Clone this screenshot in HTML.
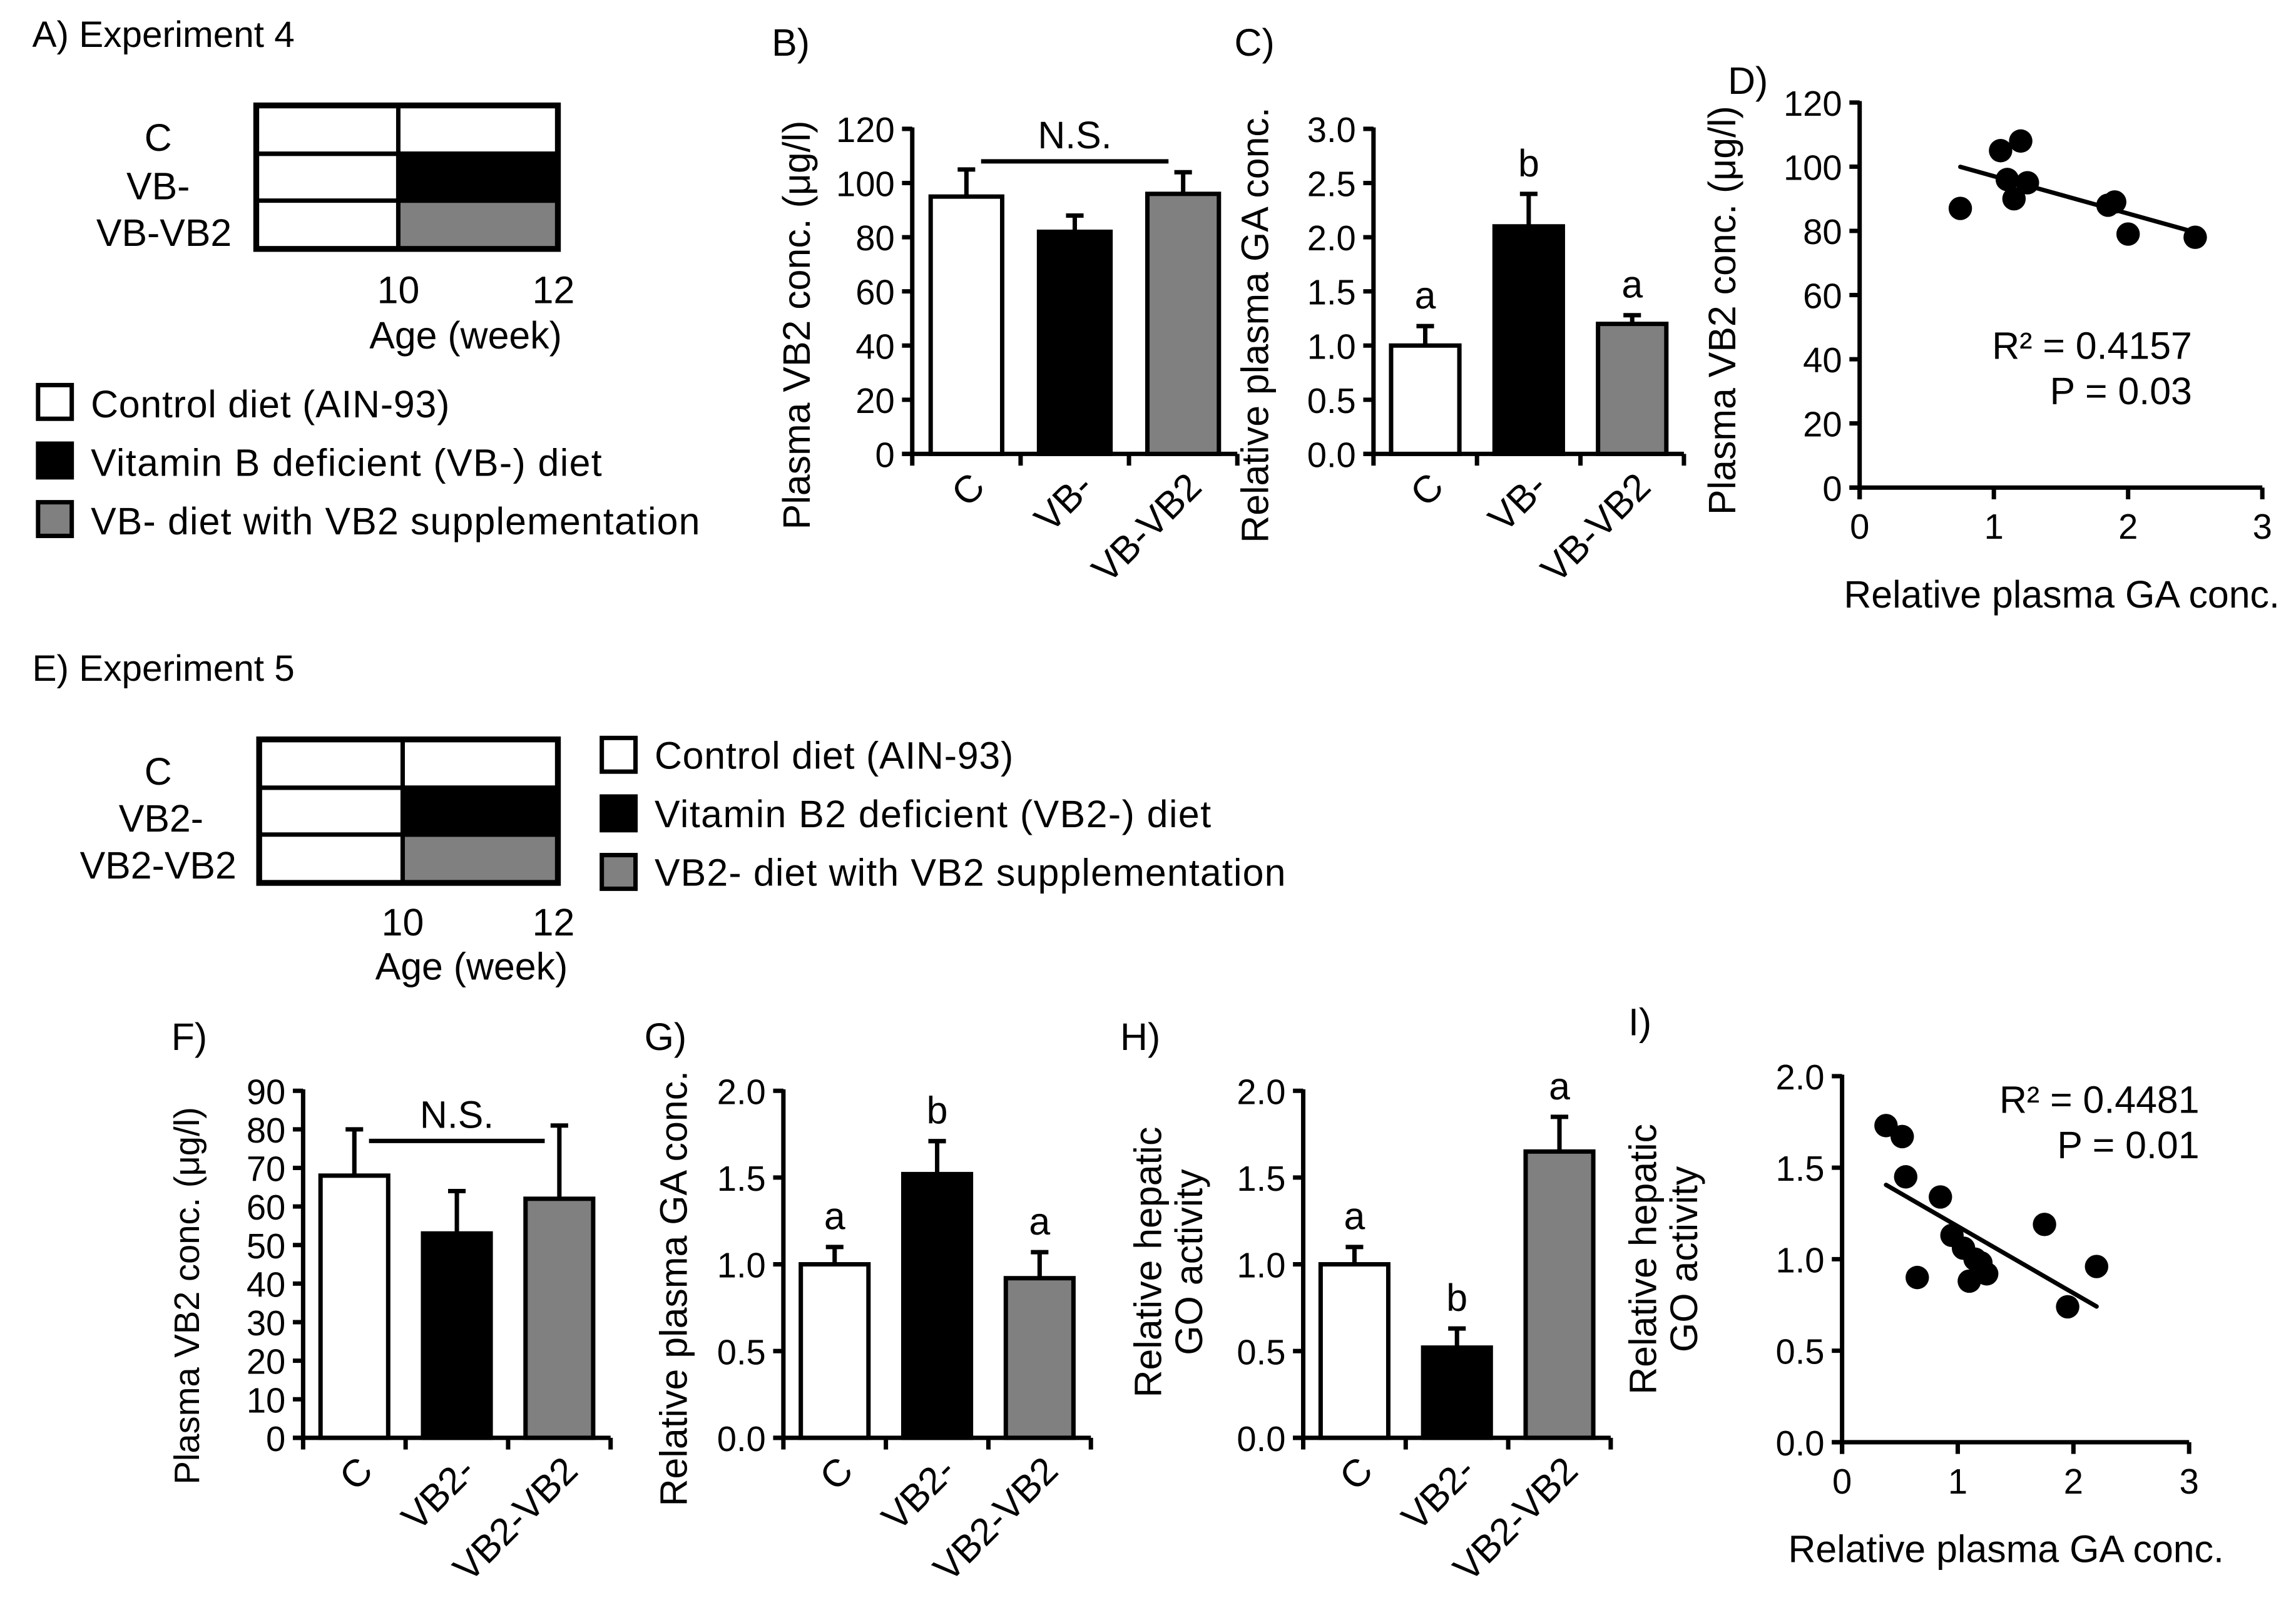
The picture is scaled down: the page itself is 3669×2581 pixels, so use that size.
<!DOCTYPE html>
<html><head><meta charset="utf-8"><style>
html,body{margin:0;padding:0;background:#fff;}
svg{display:block;}
text{font-family:"Liberation Sans",Arial,sans-serif;fill:#000;}
</style></head>
<body>
<svg id="fig" width="3669" height="2581" viewBox="0 0 1568 1103" xmlns="http://www.w3.org/2000/svg">
<g id="static">
<text x="22" y="32" font-size="25">A)  Experiment 4</text>
<g stroke="#000" stroke-width="3">
<rect x="175" y="72" width="206" height="33" fill="#fff"/>
<rect x="272" y="105" width="109" height="32" fill="#000"/>
<rect x="272" y="137" width="109" height="33" fill="#808080"/>
<rect x="175" y="72" width="206" height="98" fill="none" stroke-width="4"/>
<line x1="175" y1="105" x2="381" y2="105"/><line x1="175" y1="137" x2="381" y2="137"/>
<line x1="272" y1="72" x2="272" y2="170"/>
</g>
<text x="108" y="103" font-size="26" text-anchor="middle">C</text>
<text x="108" y="136" font-size="26" text-anchor="middle">VB-</text>
<text x="112" y="168" font-size="26" text-anchor="middle">VB-VB2</text>
<text x="272" y="207" font-size="26" text-anchor="middle">10</text>
<text x="378" y="207" font-size="26" text-anchor="middle">12</text>
<text x="318" y="238" font-size="26" text-anchor="middle">Age (week)</text>
<g>
<rect x="26" y="263" width="23" height="23" fill="#fff" stroke="#000" stroke-width="3"/>
<rect x="26" y="303" width="23" height="23" fill="#000" stroke="#000" stroke-width="3"/>
<rect x="26" y="343" width="23" height="23" fill="#808080" stroke="#000" stroke-width="3"/>
<text x="62" y="285" font-size="26" textLength="245">Control diet (AIN-93)</text>
<text x="62" y="325" font-size="26" textLength="349">Vitamin B deficient (VB-) diet</text>
<text x="62" y="365" font-size="26" textLength="416">VB- diet with VB2 supplementation</text>
</g>
<text x="22" y="465" font-size="25">E)  Experiment 5</text>
<g stroke="#000" stroke-width="3">
<rect x="177" y="505" width="204" height="33" fill="#fff"/>
<rect x="275" y="538" width="106" height="32" fill="#000"/>
<rect x="275" y="570" width="106" height="33" fill="#808080"/>
<rect x="177" y="505" width="204" height="98" fill="none" stroke-width="4"/>
<line x1="177" y1="538" x2="381" y2="538"/><line x1="177" y1="570" x2="381" y2="570"/>
<line x1="275" y1="505" x2="275" y2="603"/>
</g>
<text x="108" y="536" font-size="26" text-anchor="middle">C</text>
<text x="110" y="568" font-size="26" text-anchor="middle">VB2-</text>
<text x="108" y="600" font-size="26" text-anchor="middle">VB2-VB2</text>
<text x="275" y="639" font-size="26" text-anchor="middle">10</text>
<text x="378" y="639" font-size="26" text-anchor="middle">12</text>
<text x="322" y="669" font-size="26" text-anchor="middle">Age (week)</text>
<g>
<rect x="411" y="504" width="23" height="23" fill="#fff" stroke="#000" stroke-width="3"/>
<rect x="411" y="544" width="23" height="23" fill="#000" stroke="#000" stroke-width="3"/>
<rect x="411" y="584" width="23" height="23" fill="#808080" stroke="#000" stroke-width="3"/>
<text x="447" y="525" font-size="26" textLength="245">Control diet (AIN-93)</text>
<text x="447" y="565" font-size="26" textLength="380">Vitamin B2 deficient (VB2-) diet</text>
<text x="447" y="605" font-size="26" textLength="431">VB2- diet with VB2 supplementation</text>
</g>
</g>
<g id="charts"></g>
</svg>
<script>
// Panel B
const catsB = ["C","VB-","VB-VB2"];
const valsB = [95, 82, 96];
const errB = [10, 6, 8];
const ticksB = ["0","20","40","60","80","100","120"];
// Panel C
const catsC = ["C","VB-","VB-VB2"];
const valsC = [1.0, 2.1, 1.2];
const errC = [0.18, 0.3, 0.08];
const lettersC = ["a","b","a"];
const ticksC = ["0.0","0.5","1.0","1.5","2.0","2.5","3.0"];
// Panel F
const catsF = ["C","VB2-","VB2-VB2"];
const valsF = [68, 53, 62];
const errF = [12, 11, 19];
const ticksF = ["0","10","20","30","40","50","60","70","80","90"];
// Panel G
const catsG = ["C","VB2-","VB2-VB2"];
const valsG = [1.0, 1.52, 0.92];
const errG = [0.1, 0.19, 0.15];
const lettersG = ["a","b","a"];
const ticksG = ["0.0","0.5","1.0","1.5","2.0"];
// Panel H
const catsH = ["C","VB2-","VB2-VB2"];
const valsH = [1.0, 0.52, 1.65];
const errH = [0.1, 0.11, 0.2];
const lettersH = ["a","b","a"];
const ticksH = ["0.0","0.5","1.0","1.5","2.0"];
// Panel D scatter
const dX = [0.75,1.05,1.2,1.1,1.15,1.25,1.85,1.9,2.0,2.5];
const dY = [87,105,108,96,90,95,88,89,79,78];
const dXTicks = ["0","1","2","3"];
const dYTicks = ["0","20","40","60","80","100","120"];
// Panel I scatter
const iX = [0.38,0.52,0.55,0.65,0.85,0.95,1.05,1.1,1.15,1.2,1.25,1.75,1.95,2.2];
const iY = [1.73,1.67,1.45,0.9,1.34,1.13,1.06,0.88,1.0,0.98,0.92,1.19,0.74,0.96];
const iXTicks = ["0","1","2","3"];
const iYTicks = ["0.0","0.5","1.0","1.5","2.0"];

const FS=26, TFS=24;
const NS="http://www.w3.org/2000/svg";
const root=document.getElementById('charts');
function el(tag,attrs,parent,txt){const e=document.createElementNS(NS,tag);for(const k in attrs)e.setAttribute(k,attrs[k]);if(txt!==undefined)e.textContent=txt;(parent||root).appendChild(e);return e;}
const fills=["#fff","#000","#808080"];

function barChart(o){
  const g=el('g',{});
  
  
  const max=parseFloat(o.ticks[o.ticks.length-1]);
  const y=v=>o.y0-(o.y0-o.y1)*v/max;
  el('line',{x1:o.ax,y1:o.y1-1,x2:o.ax,y2:o.y0+8,stroke:'#000','stroke-width':3},g);
  el('line',{x1:o.ax-7,y1:o.y0,x2:o.xend,y2:o.y0,stroke:'#000','stroke-width':3},g);
  o.ticks.forEach((t,i)=>{const v=parseFloat(t);const yy=y(v);
    el('line',{x1:o.ax-7,y1:yy,x2:o.ax,y2:yy,stroke:'#000','stroke-width':3},g);
    const tl=el('text',{x:o.ax-12,y:yy+9,'font-size':TFS,'text-anchor':'end'},g,t);
    
    
  });
  const slot=(o.xend-o.ax)/o.cats.length;
  for(let i=1;i<=o.cats.length;i++){el('line',{x1:o.ax+slot*i,y1:o.y0,x2:o.ax+slot*i,y2:o.y0+8,stroke:'#000','stroke-width':3},g);}
  o.cats.forEach((c,i)=>{
    const cx=o.ax+slot*(i+0.5), bw=slot*0.66;
    const top=y(o.vals[i]), et=y(o.vals[i]+o.errs[i]);
    el('line',{x1:cx,y1:top,x2:cx,y2:et,stroke:'#000','stroke-width':3},g);
    el('line',{x1:cx-6,y1:et,x2:cx+6,y2:et,stroke:'#000','stroke-width':3},g);
    const b=el('rect',{x:cx-bw/2,y:top,width:bw,height:o.y0-top,fill:fills[i],stroke:'#000','stroke-width':3},g);
    
    
    if(o.letters){const l=el('text',{x:cx,y:et-12,'font-size':FS,'text-anchor':'middle'},g,o.letters[i]);
      
      }
    const cl=el('text',{x:0,y:0,'font-size':FS,'text-anchor':'end',transform:`translate(${cx+14},${o.y0+24}) rotate(-45)`},g,c);
    
    
  });
  if(o.ns){const a=o.ax+slot*0.5+10,b=o.ax+slot*2.5-10;
    el('line',{x1:a,y1:y(o.ns),x2:b,y2:y(o.ns),stroke:'#000','stroke-width':3},g);
    const t=el('text',{x:(a+b)/2,y:y(o.ns)-9,'font-size':FS,'text-anchor':'middle'},g,'N.S.');
    
    }
  o.title.forEach((line,k)=>{const t=el('text',{x:0,y:0,'font-size':o.tfs||FS,'text-anchor':'middle',transform:`translate(${o.tx+k*28},${o.ty}) rotate(-90)`},g,line);
    
    });
  const p=el('text',{x:o.px,y:o.py,'font-size':FS},g,o.panel);
  
  
}

function scatter(o){
  const g=el('g',{});
  
  
  const ymax=parseFloat(o.yt[o.yt.length-1]), xmax=parseFloat(o.xt[o.xt.length-1]);
  const X=v=>o.x0+(o.x1-o.x0)*v/xmax, Y=v=>o.y0-(o.y0-o.y1)*v/ymax;
  el('line',{x1:o.x0,y1:o.y1-1,x2:o.x0,y2:o.y0+8,stroke:'#000','stroke-width':3},g);
  el('line',{x1:o.x0-7,y1:o.y0,x2:o.x1,y2:o.y0,stroke:'#000','stroke-width':3},g);
  o.yt.forEach(t=>{const yy=Y(parseFloat(t));
    el('line',{x1:o.x0-7,y1:yy,x2:o.x0,y2:yy,stroke:'#000','stroke-width':3},g);
    el('text',{x:o.x0-12,y:yy+9,'font-size':TFS,'text-anchor':'end'},g,t);});
  o.xt.forEach(t=>{const xx=X(parseFloat(t));
    el('line',{x1:xx,y1:o.y0,x2:xx,y2:o.y0+8,stroke:'#000','stroke-width':3},g);
    el('text',{x:xx,y:o.y0+35,'font-size':TFS,'text-anchor':'middle'},g,t);});
  const n=o.xs.length;let mx=0,my=0;o.xs.forEach((v,i)=>{mx+=v;my+=o.ys[i];});mx/=n;my/=n;
  let sxy=0,sxx=0;o.xs.forEach((v,i)=>{sxy+=(v-mx)*(o.ys[i]-my);sxx+=(v-mx)*(v-mx);});
  const sl=sxy/sxx, ic=my-sl*mx, xa=Math.min(...o.xs), xb=Math.max(...o.xs);
  const tr=el('line',{x1:X(xa),y1:Y(ic+sl*xa),x2:X(xb),y2:Y(ic+sl*xb),stroke:'#000','stroke-width':3,'stroke-linecap':'round'},g);
  
  
  o.xs.forEach((v,i)=>{const c=el('circle',{cx:X(v),cy:Y(o.ys[i]),r:8,fill:'#000'},g);
    
    });
  el('text',{x:o.rx,y:o.ry,'font-size':FS,'text-anchor':'end'},g,o.r2);
  el('text',{x:o.rx,y:o.ry+31,'font-size':FS,'text-anchor':'end'},g,o.pv);
  const xt=el('text',{x:o.xtx,y:o.y0+82,'font-size':FS,'text-anchor':'middle'},g,'Relative plasma GA conc.');
  
  
  o.title.forEach((line,k)=>{const t=el('text',{x:0,y:0,'font-size':FS,'text-anchor':'middle',transform:`translate(${o.tx+k*28},${o.ty}) rotate(-90)`},g,line);
    
    });
  el('text',{x:o.px,y:o.py,'font-size':FS},g,o.panel);
}

barChart({name:'chart-b',panel:'B)',px:527,py:38,ax:623,y0:310,y1:88,xend:845,cats:catsB,vals:valsB,errs:errB,ticks:ticksB,ns:108,title:['Plasma VB2 conc.  (μg/l)'],tx:553,ty:222});
barChart({name:'chart-c',panel:'C)',px:843,py:38,ax:938,y0:310,y1:88,xend:1150,cats:catsC,vals:valsC,errs:errC,ticks:ticksC,letters:lettersC,title:['Relative plasma GA  conc.'],tx:866,ty:222});
barChart({name:'chart-f',panel:'F)',px:117,py:717,ax:207,y0:982,y1:745,xend:417,cats:catsF,vals:valsF,errs:errF,ticks:ticksF,ns:77,title:['Plasma VB2 conc. (μg/l)'],tfs:24,tx:136,ty:885});
barChart({name:'chart-g',panel:'G)',px:440,py:717,ax:535,y0:982,y1:745,xend:745,cats:catsG,vals:valsG,errs:errG,ticks:ticksG,letters:lettersG,title:['Relative plasma GA  conc.'],tx:469,ty:880});
barChart({name:'chart-h',panel:'H)',px:765,py:717,ax:890,y0:982,y1:745,xend:1100,cats:catsH,vals:valsH,errs:errH,ticks:ticksH,letters:lettersH,title:['Relative hepatic','GO activity'],tx:793,ty:862});
scatter({name:'chart-d',panel:'D)',px:1180,py:64,x0:1270,x1:1545,y0:333,y1:70,xs:dX,ys:dY,xt:dXTicks,yt:dYTicks,r2:'R² = 0.4157',pv:'P = 0.03',rx:1497,ry:245,xtx:1408,title:['Plasma VB2 conc.  (μg/l)'],tx:1185,ty:212});
scatter({name:'chart-i',panel:'I)',px:1112,py:707,x0:1258,x1:1495,y0:985,y1:735,xs:iX,ys:iY,xt:iXTicks,yt:iYTicks,r2:'R² = 0.4481',pv:'P = 0.01',rx:1502,ry:760,xtx:1370,title:['Relative hepatic','GO activity'],tx:1131,ty:860});
</script>
</body></html>
